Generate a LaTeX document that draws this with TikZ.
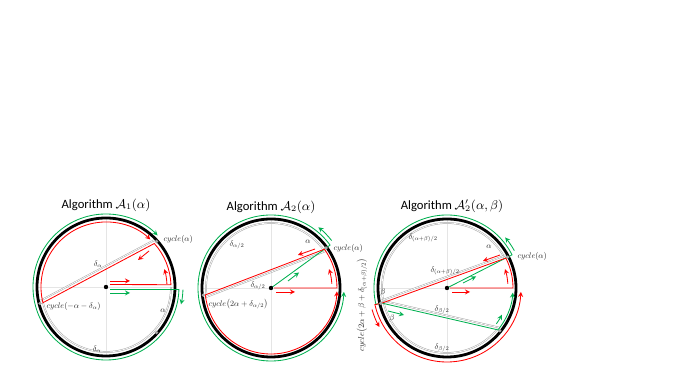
\documentclass[tikz,border=0pt]{standalone}
\usepackage{fontspec}
\setmainfont{Carlito}
\definecolor{pptgreen}{HTML}{00B050}
\definecolor{pptgray}{HTML}{A6A6A6}
\begin{document}
\begin{tikzpicture}[>=stealth, x=0.025cm, y=0.025cm,
  rim/.style={line width=2pt},
  axisline/.style={black!10, line width=0.3pt},
  grayline/.style={pptgray, line width=0.35pt, double=white, double distance=0.5pt},
  redline/.style={red, line width=0.6pt},
  greenline/.style={pptgreen, line width=0.6pt},
  tag/.style={font=\normalsize, text=black!85, inner sep=0.5pt, scale=0.58},
  title/.style={font=\fontsize{9}{10}\selectfont}]
  \useasboundingbox (0,0) rectangle (677,379);
  % 算法 A_1(alpha)
  \begin{scope}[shift={(106,92)}]
    \node[title] (t1) at (0,82) {Algorithm $\mathcal{A}_1(\alpha)$};
    % 坐标轴
    \draw[axisline] (-69,0) -- (69,0) (0,-69) -- (0,69);
    % 灰色弧与弦
    \draw[grayline] (0:65) arc[start angle=0, end angle=-166, radius=65];
    \draw[grayline, shift={(118:2.5)}] (42:67) -- (194:67);
    % 圆
    \draw[rim] (0,0) circle (69);
    % 绿色路径
    \draw[greenline, ->] (4,-2.5) -- (-2:73) arc[start angle=-2, end angle=-315, radius=73];
    \draw[greenline, ->] (-2:77) arc[start angle=-2, end angle=-13, radius=77];
    \draw[greenline, ->] (4,-6) -- (24,-6);
    % 红色路径
    \draw[redline, ->] (4,2.5) -- (2:65) arc[start angle=2, end angle=42, radius=65]
      -- (194:65) arc[start angle=194, end angle=47, radius=65];
    \draw[redline, ->] (3:61) arc[start angle=3, end angle=17, radius=61];
    \draw[redline, ->] (43,36) -- (32,27);
    \draw[redline, ->] (4,6) -- (24,6);
    % 点
    \foreach \a in {42,194,-42}{
      \fill[pptgray] (\a:68) circle (1.8);
    }
    \fill (0,0) circle (2.2);
    % 标注
    \node[tag, anchor=west] (c1) at (57,48) {$cycle(\alpha)$};
    \node[tag, anchor=west] (d1) at (-60,-19) {$cycle(-\alpha-\delta_\alpha)$};
    \node[tag] (e1) at (-8,23) {$\delta_\alpha$};
    \node[tag] (f1) at (57,-24) {$\alpha$};
    \node[tag] (g1) at (-9,-62) {$\delta_\alpha$};
  \end{scope}
  % 算法 A_2(alpha)
  \begin{scope}[shift={(271,91)}]
    \node[title] (t2) at (0,81) {Algorithm $\mathcal{A}_2(\alpha)$};
    % 坐标轴
    \draw[axisline] (-69,0) -- (69,0) (0,-69) -- (0,69);
    % 灰色弧与弦
    \draw[grayline] (36:65) arc[start angle=36, end angle=186, radius=65];
    \draw[grayline, shift={(291:2.5)}] (36:67) -- (186:67);
    % 圆
    \draw[rim] (0,0) circle (69);
    % 绿色路径
    \draw[greenline, ->] (0,0) -- (36:67) -- (36:73) arc[start angle=36, end angle=357, radius=73];
    \draw[greenline, ->] (38:77) arc[start angle=38, end angle=52, radius=77];
    \draw[greenline, ->] (17,7) -- (28,15.5);
    % 红色路径
    \draw[redline, ->] (3,0) -- (0:66) arc[start angle=0, end angle=36, radius=66]
      -- (186:66) arc[start angle=186, end angle=357, radius=66];
    \draw[redline, ->] (4:61) arc[start angle=4, end angle=18, radius=61];
    \draw[redline, ->] (44,39) -- (27,33);
    \draw[redline, ->] (5,-4) -- (24,-4);
    % 点
    \foreach \a in {36,186}{
      \fill[pptgray] (\a:68) circle (1.8);
    }
    \fill (0,0) circle (2.2);
    % 标注
    \node[tag, anchor=west] (c2) at (62,40) {$cycle(\alpha)$};
    \node[tag, anchor=west] (d2) at (-63,-16) {$cycle\bigl(2\alpha+\delta_{\alpha/2}\bigr)$};
    \node[tag] (e2) at (-13,2) {$\delta_{\alpha/2}$};
    \node[tag] (f2) at (37,46) {$\alpha$};
    \node[tag] (g2) at (-34,43) {$\delta_{\alpha/2}$};
  \end{scope}
  % 算法 A'_2(alpha,beta)
  \begin{scope}[shift={(447,91)}]
    \node[title] (t3) at (5,82) {Algorithm $\mathcal{A}'_2(\alpha,\beta)$};
    % 坐标轴
    \draw[axisline] (-69,0) -- (69,0) (0,-69) -- (0,69);
    % 灰色弧与弦
    \draw[grayline] (27:65) arc[start angle=27, end angle=321, radius=65];
    \draw[grayline, shift={(117:2.5)}] (27:67) -- (193:67);
    \draw[grayline, shift={(77:2.5)}] (193:67) -- (-39:67);
    % 圆
    \draw[rim] (0,0) circle (69);
    % 绿色路径
    \draw[greenline] (0,0) -- (27:67) -- (27:73) arc[start angle=27, end angle=193, radius=73]
      -- (193:67) -- (-39:67);
    \draw[greenline, ->] (-39:66) arc[start angle=-39, end angle=-4, radius=66];
    \draw[greenline, ->] (29:77) arc[start angle=29, end angle=41, radius=77];
    \draw[greenline, ->] (16,5) -- (29,11.5);
    \draw[greenline, ->] (-59,-23) -- (-43,-27);
    \draw[greenline, ->] (-36:61) arc[start angle=-36, end angle=-26, radius=61];
    % 红色路径
    \draw[redline, ->] (3,0) -- (0:66) arc[start angle=0, end angle=27, radius=66]
      -- (193:66) -- (193:74) arc[start angle=193, end angle=357, radius=74];
    \draw[redline, ->] (196:78) arc[start angle=196, end angle=210, radius=78];
    \draw[redline, ->] (4:61) arc[start angle=4, end angle=18, radius=61];
    \draw[redline, ->] (53,33) -- (36,27);
    \draw[redline, ->] (5,-4) -- (23,-4);
    % 点
    \foreach \a in {27,193,-39}{
      \fill[pptgray] (\a:68) circle (1.8);
    }
    \fill (0,0) circle (2.2);
    % 标注
    \node[tag, anchor=west] (c3) at (70,32) {$cycle(\alpha)$};
    \node[tag, rotate=90, scale=1.05] (d3) at (-85,-17) {$cycle\bigl(2\alpha+\beta+\delta_{(\alpha+\beta)/2}\bigr)$};
    \node[tag] (e3) at (-2,17) {$\delta_{(\alpha+\beta)/2}$};
    \node[tag] (g3) at (-24,50) {$\delta_{(\alpha+\beta)/2}$};
    \node[tag] (f3) at (42,41) {$\alpha$};
    \node[tag] (h3) at (-64,-4) {$\beta$};
    \node[tag] (i3) at (-55,-30) {$\beta$};
    \node[tag] (j3) at (-5,-22) {$\delta_{\beta/2}$};
    \node[tag] (k3) at (-5,-60) {$\delta_{\beta/2}$};
  \end{scope}
\end{tikzpicture}
\end{document}
